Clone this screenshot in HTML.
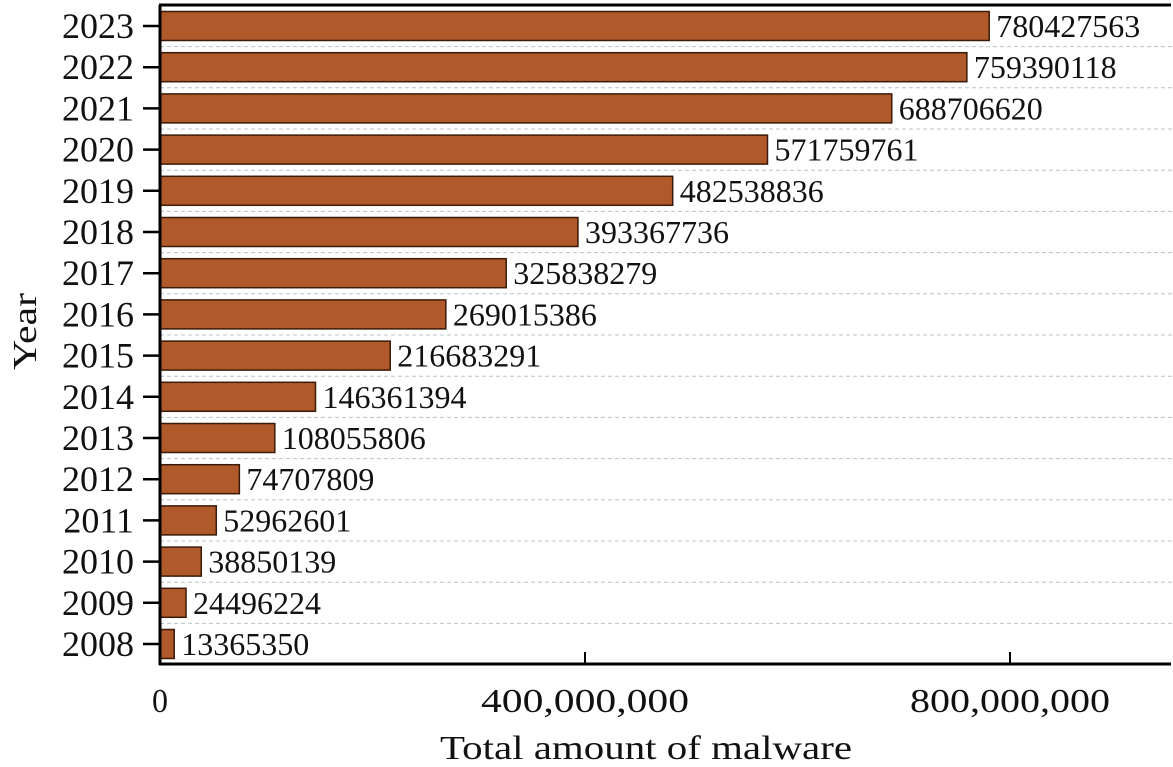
<!DOCTYPE html>
<html><head><meta charset="utf-8"><style>
html,body{margin:0;padding:0;background:#fff;}
svg{display:block;font-family:"Liberation Serif",serif;}
</style></head><body>
<svg id="chart" width="1173" height="767"></svg>
<script>
const years=["2008","2009","2010","2011","2012","2013","2014","2015","2016","2017","2018","2019","2020","2021","2022","2023"];
const values=[13365350,24496224,38850139,52962601,74707809,108055806,146361394,216683291,269015386,325838279,393367736,482538836,571759761,688706620,759390118,780427563];
const xTicks=[0,400000000,800000000];
const xTickLabels=["0","400,000,000","800,000,000"];
const NS="http://www.w3.org/2000/svg";
const svg=document.getElementById("chart");
const x0=160,x1=1010,plotTop=5,plotBottom=664;
const xs=v=>x0+(v/800000000)*(x1-x0);
const yc=i=>644-i*((644-26)/15);
const bh=29;
function mk(t,a,p){const e=document.createElementNS(NS,t);for(const k in a)e.setAttribute(k,a[k]);(p||svg).appendChild(e);return e;}
for(let i=0;i<years.length-1;i++){
  const g=mk("line",{x1:x0,x2:1173,y1:(yc(i)+yc(i+1))/2,y2:(yc(i)+yc(i+1))/2,stroke:"#b8c4cc","stroke-width":1,"stroke-dasharray":"4,3"});
  
  
}
years.forEach((y,i)=>{
  const c=yc(i);
  const r=mk("rect",{x:x0,y:c-bh/2,width:xs(values[i])-x0,height:bh,fill:"#b0592a",stroke:"#3a1a08","stroke-width":1.5});
  
  
  const s=String(values[i]);
  const v=mk("text",{x:xs(values[i])+7,y:c+11,"font-size":32,fill:"#111"});v.textContent=s;
  
  
  const t=mk("line",{x1:143,x2:x0,y1:c,y2:c,stroke:"#000","stroke-width":2.5});
  
  
  const l=mk("text",{x:134,y:c+12,"font-size":36,"text-anchor":"end",fill:"#111"});l.textContent=y;
  
  
});
const tickW=[16,208,200];
xTicks.forEach((v,i)=>{
  const t=mk("line",{x1:xs(v),x2:xs(v),y1:652,y2:plotBottom,stroke:"#000","stroke-width":2});
  
  
  const l=mk("text",{x:xs(v)-tickW[i]/2,y:712,"font-size":34,fill:"#111",textLength:tickW[i],lengthAdjust:"spacingAndGlyphs"});l.textContent=xTickLabels[i];
  
  
});
const ax=mk("line",{x1:x0,x2:x0,y1:plotTop,y2:plotBottom+1,stroke:"#000","stroke-width":3});


const bx=mk("line",{x1:x0-1,x2:1171,y1:plotBottom,y2:plotBottom,stroke:"#000","stroke-width":3});


const tb=mk("line",{x1:x0-1,x2:1171,y1:plotTop,y2:plotTop,stroke:"#000","stroke-width":3});


const xt=mk("text",{x:440,y:759,"font-size":34,fill:"#111",textLength:412,lengthAdjust:"spacingAndGlyphs"});xt.textContent="Total amount of malware";


const yt=mk("text",{x:-370,y:36,"font-size":34,fill:"#111",transform:"rotate(-90)",textLength:77,lengthAdjust:"spacingAndGlyphs"});yt.textContent="Year";


</script>
</body></html>
